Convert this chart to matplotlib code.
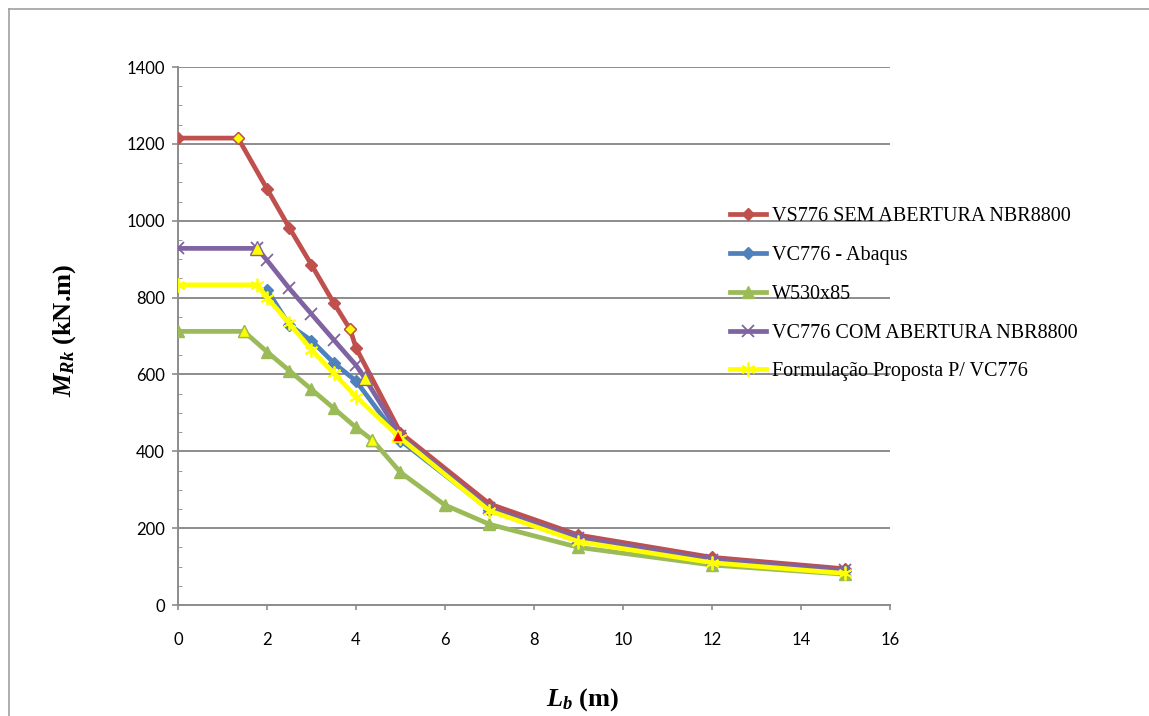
import matplotlib
matplotlib.use("Agg")
import matplotlib.pyplot as plt
from matplotlib.lines import Line2D
from matplotlib.ticker import MultipleLocator

# data
lb_vs = [0, 1.35, 2, 2.5, 3, 3.5, 3.87, 4, 5, 7, 9, 12, 15]
m_vs = [1215, 1215, 1083, 982, 885, 786, 717, 669, 448, 263, 182, 124, 94]

lb_abq = [2, 2.5, 3, 3.5, 4, 5, 7, 9, 12, 15]
m_abq = [820, 729, 688, 630, 583, 428, 248, 172, 115, 88]

lb_w = [0, 1.48, 2, 2.5, 3, 3.5, 4, 4.37, 5, 6, 7, 9, 12, 15]
m_w = [712, 712, 659, 610, 561, 512, 462, 429, 345, 260, 210, 150, 104, 80]

lb_vc = [0, 1.78, 2, 2.5, 3, 3.5, 4, 4.2, 5, 7, 9, 12, 15]
m_vc = [928, 928, 897, 824, 757, 690, 624, 590, 440, 252, 175, 118, 90]

lb_form = [0, 1.78, 2, 2.5, 3, 3.5, 4, 5, 7, 9, 12, 15]
m_form = [833, 833, 800, 733, 664, 603, 542, 434, 245, 165, 110, 82]

labels = ["VS776 SEM ABERTURA NBR8800", "VC776 - Abaqus", "W530x85",
          "VC776 COM ABERTURA NBR8800", "Formulação Proposta P/ VC776"]

red = "#C0504D"
blue = "#4F81BD"
green = "#9BBB59"
purple = "#8064A2"
yellow = "#FFFF00"

plt.rcParams['mathtext.fontset'] = 'custom'
plt.rcParams['mathtext.it'] = 'Liberation Serif:bold:italic'
plt.rcParams['mathtext.rm'] = 'Liberation Serif:bold'

fig = plt.figure(figsize=(11.49, 7.16), dpi=100)
ax = fig.add_axes([178/1149, 1-605/716, 712/1149, 538/716])

lw = 3.4
ax.plot(lb_vs, m_vs, color=red, lw=lw, marker="D", ms=6.5, label=labels[0], zorder=3)
ax.plot(lb_abq, m_abq, color=blue, lw=lw, marker="D", ms=6.5, label=labels[1], zorder=3)
ax.plot(lb_w, m_w, color=green, lw=lw, marker="^", ms=8, label=labels[2], zorder=3)
ax.plot(lb_vc, m_vc, color=purple, lw=lw, marker="x", ms=9, mew=1.3, label=labels[3], zorder=3)
ax.plot(lb_form, m_form, color=yellow, lw=lw, marker=(6, 2, 0), ms=10, mew=1.3,
        label=labels[4], zorder=3)

# highlighted points (yellow fill)
for i in [1, 6]:
    ax.plot(lb_vs[i], m_vs[i], marker="D", ms=6, mfc=yellow, mec=red, mew=1, zorder=4)
for i in [1, 7]:
    ax.plot(lb_vc[i], m_vc[i], marker="^", ms=10, mfc=yellow, mec=purple, mew=1, zorder=4)
    ax.plot(lb_w[i], m_w[i], marker="^", ms=8, mfc=yellow, mec=green, mew=1, zorder=4)
ax.plot(lb_vs[8] - 0.05, m_vc[8], marker="^", ms=9, mfc="red", mec=yellow, mew=1.2, zorder=4)

ax.set_xlim(0, 16)
ax.set_ylim(0, 1400)
ax.xaxis.set_major_locator(MultipleLocator(2))
ax.yaxis.set_major_locator(MultipleLocator(200))
ax.yaxis.set_minor_locator(MultipleLocator(50))

ax.grid(axis="y", which="major", color="#8c8c8c", lw=1.4, zorder=0)
ax.set_axisbelow(True)
for s in ["top", "right"]:
    ax.spines[s].set_visible(False)
for s in ["left", "bottom"]:
    ax.spines[s].set_color("#8c8c8c")
    ax.spines[s].set_linewidth(1.4)

tick_font = ["Lato", "DejaVu Sans"]
ax.tick_params(axis="y", which="major", direction="out", length=4.5, width=1.2,
               color="#8c8c8c", pad=5)
ax.tick_params(axis="y", which="minor", direction="in", length=3, color="#8c8c8c")
ax.tick_params(axis="x", which="major", direction="out", length=3.5, width=1.2,
               color="#8c8c8c", pad=16)
for lab in ax.get_xticklabels() + ax.get_yticklabels():
    lab.set_family(tick_font)
    lab.set_fontsize(12)

fig.text(65/1149, 1-330/716, r"$M_{Rk}$ (kN.m)", rotation=90, ha="center", va="center",
         family="Liberation Serif", fontweight="bold", fontsize=19)
fig.text(583/1149, 1-700/716, r"$L_b$ (m)", ha="center", va="center",
         family="Liberation Serif", fontweight="bold", fontsize=19)

fig.legend(loc="upper left", bbox_to_anchor=(722/1149, 1-199/716), frameon=False,
           prop={"family": "Liberation Serif", "size": 14.5}, handlelength=1.8,
           handletextpad=0.3, labelspacing=0.98, borderaxespad=0)

# outer chart border
fig.add_artist(Line2D([9/1149, 9/1149], [0, 1-9/716], transform=fig.transFigure,
                      color="#a0a0a0", lw=1.2))
fig.add_artist(Line2D([9/1149, 1], [1-9/716, 1-9/716], transform=fig.transFigure,
                      color="#a0a0a0", lw=1.2))

fig.savefig("out.png", dpi=100)
